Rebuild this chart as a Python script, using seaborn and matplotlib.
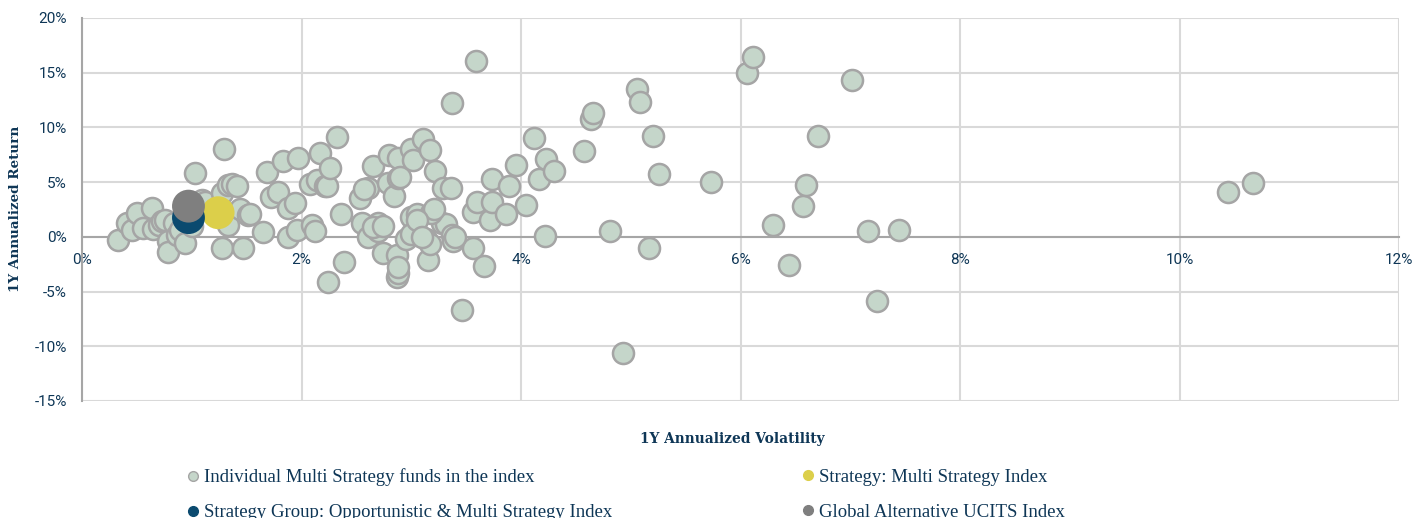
import numpy as np
import pandas as pd
import matplotlib
matplotlib.use("Agg")
import matplotlib.pyplot as plt
from matplotlib.lines import Line2D
from matplotlib.ticker import FuncFormatter, MultipleLocator
import seaborn as sns

# ── data (in %) ──────────────────────────────────────────────────────────────
fund_vol = [
    0.33, 0.41, 0.46, 0.50, 0.56, 0.64, 0.65, 0.70, 0.73, 0.76, 0.78, 0.78, 0.84, 0.87, 0.89, 0.94,
    1.00, 1.03, 1.09, 1.12, 1.24, 1.28, 1.29, 1.33, 1.28, 1.33, 1.37, 1.41, 1.44, 1.47, 1.51, 1.53,
    1.65, 1.69, 1.72, 1.79, 1.83, 1.88, 1.88, 1.94, 1.96, 1.97, 2.08, 2.10, 2.12, 2.14, 2.17, 2.21,
    2.23, 2.24, 2.26, 2.32, 2.36, 2.39,
    2.53, 2.55, 2.61, 2.61, 2.65, 2.70, 2.70, 2.74, 2.79, 2.80, 2.84, 2.87, 2.87, 2.88, 2.88, 2.88,
    2.90, 2.95, 3.00, 3.00, 3.02, 3.05, 3.11, 3.13, 3.15, 3.17, 3.17, 3.22, 3.28, 3.29, 3.32, 3.36,
    3.37, 3.37, 3.38, 3.46, 3.56, 3.56, 3.59, 3.60, 3.66, 3.72, 3.74, 3.74, 3.86, 3.89, 3.95, 4.05,
    4.12, 4.16, 4.22, 4.23, 4.30,
    2.88, 3.18, 3.21, 3.00, 2.57, 2.65, 2.74, 3.05, 3.10, 3.40,
    4.57, 4.64, 4.66, 4.81, 4.93, 5.06, 5.08, 5.17, 5.20, 5.26, 5.73, 6.06, 6.11, 6.30, 6.44, 6.57,
    6.60, 6.71, 7.02, 7.16, 7.24, 7.44, 10.44, 10.67,
]
fund_ret = [
    -0.3, 1.3, 0.6, 2.2, 0.8, 2.6, 0.7, 1.1, 1.4, 1.5, -0.4, -1.4, 1.3, 0.2, 0.6, -0.6,
    1.0, 5.8, 3.4, 3.2, 2.6, 4.0, 8.0, 1.1, -1.0, 4.75, 4.8, 4.6, 2.5, -1.0, 2.0, 2.1,
    0.4, 5.9, 3.6, 4.1, 6.9, 2.6, 0.0, 3.1, 0.6, 7.2, 4.8, 1.1, 0.5, 5.2, 7.7, 4.6,
    4.6, -4.1, 6.3, 9.1, 2.1, -2.3,
    3.5, 1.3, 0.0, 4.5, 6.5, 1.3, 0.5, -1.5, 4.9, 7.5, 3.7, -1.7, -3.7, -3.3, 7.2, 5.4,
    5.5, -0.2, 1.8, 8.0, 7.0, 2.1, 8.9, -0.2, -2.1, 7.9, -0.7, 6.0, 1.3, 4.5, 1.2, 4.5,
    0.2, 12.2, -0.4, -6.7, 2.3, -1.0, 16.1, 3.2, -2.7, 1.5, 5.3, 3.2, 2.1, 4.6, 6.6, 2.9,
    9.0, 5.3, 0.1, 7.1, 6.0,
    -2.8, 2.2, 2.5, 0.3, 4.4, 0.9, 1.0, 1.5, 0.0, 0.0,
    7.8, 10.8, 11.3, 0.5, -10.6, 13.5, 12.3, -1.0, 9.2, 5.7, 5.0, 15.0, 16.4, 1.1, -2.6, 2.8,
    4.7, 9.2, 14.3, 0.5, -5.9, 0.6, 4.1, 4.9,
]

index_names = [
    "Strategy: Multi Strategy Index",
    "Strategy Group: Opportunistic & Multi Strategy Index",
    "Global Alternative UCITS Index",
]
index_vol = [1.24, 0.97, 0.97]
index_ret = [2.2, 1.75, 2.8]

FUND_LABEL = "Individual Multi Strategy funds in the index"

FUND_FILL = "#c5d6ca"
FUND_EDGE = "#a5a5a5"
INDEX_COLORS = ["#dccf4a", "#0b4a6f", "#7f7f7f"]
NAVY = "#0e3656"

sns.set_theme(style="white")
plt.rcParams["font.family"] = ["Roboto", "DejaVu Sans"]

funds = pd.DataFrame({"vol": fund_vol, "ret": fund_ret})
idx = pd.DataFrame({"name": index_names, "vol": index_vol, "ret": index_ret})

fig = plt.figure(figsize=(14.14, 5.18), dpi=100)
ax = fig.add_axes([0.058, 0.226, 0.9314, 0.7394])

sns.scatterplot(data=funds, x="vol", y="ret", ax=ax, s=230, color=FUND_FILL,
                edgecolor=FUND_EDGE, linewidth=1.8, zorder=3, legend=False)
sns.scatterplot(data=idx, x="vol", y="ret", hue="name", palette=INDEX_COLORS,
                hue_order=index_names, ax=ax, s=560, linewidth=0, zorder=4, legend=False)

ax.set_xlim(0, 12)
ax.set_ylim(-15, 20)
ax.xaxis.set_major_locator(MultipleLocator(2))
ax.yaxis.set_major_locator(MultipleLocator(5))
ax.xaxis.set_major_formatter(FuncFormatter(lambda v, p: f"{v:.0f}%"))
ax.yaxis.set_major_formatter(FuncFormatter(lambda v, p: f"{v:.0f}%"))
ax.grid(True, color="#d9d9d9", linewidth=1.5, zorder=0)
ax.set_axisbelow(True)

for s in ["top", "right"]:
    ax.spines[s].set_visible(False)
ax.spines["left"].set_color("#a6a6a6")
ax.spines["left"].set_linewidth(1.5)
ax.spines["bottom"].set_position(("data", 0))
ax.spines["bottom"].set_color("#a6a6a6")
ax.spines["bottom"].set_linewidth(1.5)
ax.spines["bottom"].set_zorder(1)

ax.tick_params(axis="both", length=0, labelsize=11, labelcolor=NAVY)
ax.tick_params(axis="x", pad=12)
ax.tick_params(axis="y", pad=11)

ax.set_xlabel("")
ax.set_ylabel("")
fig.text(0.518, 0.153, "1Y Annualized Volatility", ha="center", va="center",
         family="DejaVu Serif", fontweight="bold", fontsize=9.9, color=NAVY)
fig.text(0.011, 0.597, "1Y Annualized Return", ha="center", va="center", rotation=90,
         family="DejaVu Serif", fontweight="bold", fontsize=9.7, color=NAVY)

def handle(color, edge=None):
    return Line2D([], [], marker="o", linestyle="", markersize=7,
                  markerfacecolor=color, markeredgecolor=edge or color, markeredgewidth=1)

leg_kw = dict(frameon=False, loc="upper left", labelspacing=0.95, handletextpad=0.1,
              handlelength=1.0, prop={"family": "Liberation Serif", "size": 13.5},
              labelcolor=NAVY)
fig.legend([handle(FUND_FILL, FUND_EDGE), handle(INDEX_COLORS[1])],
           [FUND_LABEL, index_names[1]], bbox_to_anchor=(0.118, 0.128), **leg_kw)
fig.legend([handle(INDEX_COLORS[0]), handle(INDEX_COLORS[2])],
           [index_names[0], index_names[2]], bbox_to_anchor=(0.553, 0.128), **leg_kw)

fig.savefig("out.png", dpi=100)
